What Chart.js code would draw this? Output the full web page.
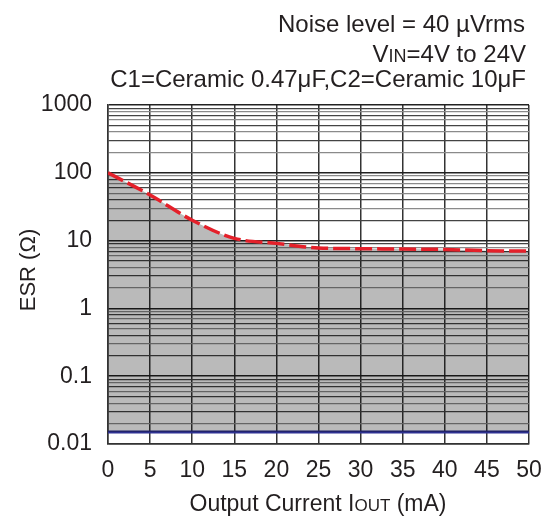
<!DOCTYPE html>
<html>
<head>
<meta charset="utf-8">
<script src="https://cdn.jsdelivr.net/npm/chart.js@4"></script>
<style>
  html, body { margin: 0; padding: 0; background: #fff; }
  #wrap { width: 549px; height: 518px; }
</style>
</head>
<body>
<div id="wrap"><canvas id="esrChart" width="549" height="518"></canvas></div>
<script>
// Dados
const currents = [0, 5, 10, 15, 20, 25, 30, 35, 40, 45, 50];          // mA
const esrUpper = [100, 47, 20, 10.8, 9.1, 7.8, 7.6, 7.5, 7.4, 7.1, 7.0]; // Ω (linha vermelha)
const lowerCurrents = [0, 50];
const esrLower = [0.015, 0.015];                                       // Ω (linha azul)
const xTicks = [0, 5, 10, 15, 20, 25, 30, 35, 40, 45, 50];
const yDecades = [0.01, 0.1, 1, 10, 100, 1000];
const yTickLabels = ['0.01', '0.1', '1', '10', '100', '1000'];
const yMultiples = [1, 2, 3, 4, 5, 6, 7, 8, 9];

const FONT = "'Liberation Sans', Arial, Helvetica, sans-serif";
Chart.defaults.font.family = FONT;
Chart.defaults.color = '#231f20';

// lista de ticks do eixo log: 1..9 em cada década
const yTickList = [];
yDecades.forEach(function (d, i) {
    if (i === yDecades.length - 1) {
        yTickList.push({ value: d, label: yTickLabels[i], major: true });
        return;
    }
    yMultiples.forEach(function (m) {
        yTickList.push({
            value: d * m,
            label: m === 1 ? yTickLabels[i] : '',
            major: m === 1
        });
    });
});

// desenha um texto com trecho em versalete menor (subscritos tipo IN / OUT)
function drawParts(ctx, parts, x, y, align) {
    let total = 0;
    parts.forEach(function (p) {
        ctx.font = p.size + 'px ' + FONT;
        p.w = ctx.measureText(p.text).width;
        total += p.w;
    });
    let cx = align === 'right' ? x - total : (align === 'center' ? x - total / 2 : x);
    ctx.textAlign = 'left';
    ctx.textBaseline = 'alphabetic';
    parts.forEach(function (p) {
        ctx.font = p.size + 'px ' + FONT;
        ctx.fillText(p.text, cx, y);
        cx += p.w;
    });
}

const textPlugin = {
    id: 'textPlugin',
    afterDraw(chart) {
        const ctx = chart.ctx;
        ctx.save();
        ctx.fillStyle = '#231f20';
        // cabeçalho
        drawParts(ctx, [{ text: 'Noise level = 40 µVrms', size: 24 }], 525, 32, 'right');
        drawParts(ctx, [
            { text: 'V', size: 24 },
            { text: 'IN', size: 18 },
            { text: '=4V to 24V', size: 24 }
        ], 526, 62, 'right');
        drawParts(ctx, [{ text: 'C1=Ceramic 0.47μF,C2=Ceramic 10μF', size: 24 }], 526, 87, 'right');
        // título eixo X
        drawParts(ctx, [
            { text: 'Output Current I', size: 23 },
            { text: 'OUT', size: 17 },
            { text: ' (mA)', size: 23 }
        ], 318, 511, 'center');
        // título eixo Y
        ctx.translate(27, 270);
        ctx.rotate(-Math.PI / 2);
        drawParts(ctx, [{ text: 'ESR (Ω)', size: 22 }], 0, 8, 'center');
        ctx.restore();
    }
};

const ctx = document.getElementById('esrChart').getContext('2d');
new Chart(ctx, {
    type: 'line',
    data: {
        datasets: [
            {
                label: 'ESR max',
                data: currents.map((c, i) => ({ x: c, y: esrUpper[i] })),
                borderColor: '#e4202a',
                borderWidth: 3.5,
                borderDash: [17, 5],
                pointRadius: 0,
                cubicInterpolationMode: 'monotone',
                fill: { target: 1 },
                backgroundColor: 'rgba(0, 0, 0, 0.27)'
            },
            {
                label: 'ESR min',
                data: lowerCurrents.map((c, i) => ({ x: c, y: esrLower[i] })),
                borderColor: '#2e3192',
                borderWidth: 3,
                pointRadius: 0,
                fill: false
            }
        ]
    },
    options: {
        responsive: false,
        animation: false,
        layout: { padding: { top: 105, right: 20, left: 0, bottom: 0 } },
        plugins: {
            legend: { display: false },
            tooltip: { enabled: false }
        },
        scales: {
            x: {
                type: 'linear',
                min: 0,
                max: 50,
                afterBuildTicks: function (scale) {
                    scale.ticks = xTicks.map(v => ({ value: v }));
                },
                afterFit: function (scale) {
                    scale.height = 74;
                    scale.paddingLeft = 0;
                    scale.paddingRight = 0;
                },
                ticks: {
                    autoSkip: false,
                    maxRotation: 0,
                    padding: 13,
                    font: { size: 23 },
                    color: '#231f20'
                },
                grid: { color: '#333333', lineWidth: 1.5, drawTicks: false },
                border: { color: '#333333', width: 1.5 }
            },
            y: {
                type: 'logarithmic',
                min: 0.01,
                max: 1000,
                afterBuildTicks: function (scale) {
                    scale.ticks = yTickList.map(t => ({ value: t.value, major: t.major }));
                },
                afterFit: function (scale) {
                    scale.width = 108;
                    scale.paddingTop = 0;
                    scale.paddingBottom = 0;
                },
                ticks: {
                    autoSkip: false,
                    padding: 16,
                    font: { size: 23 },
                    color: '#231f20',
                    callback: function (value, index) {
                        return yTickList[index].label;
                    }
                },
                grid: {
                    drawTicks: false,
                    color: function (c) {
                        const t = yTickList[c.index];
                        if (!t) return '#333333';
                        if (t.major) return '#222222';
                        return (c.index % 2 === 0) ? '#444444' : '#8a8a8a';
                    },
                    lineWidth: function (c) {
                        const t = yTickList[c.index];
                        return t && t.major ? 1.6 : 1.2;
                    }
                },
                border: { color: '#333333', width: 1.5 }
            }
        }
    },
    plugins: [textPlugin]
});
</script>
</body>
</html>
